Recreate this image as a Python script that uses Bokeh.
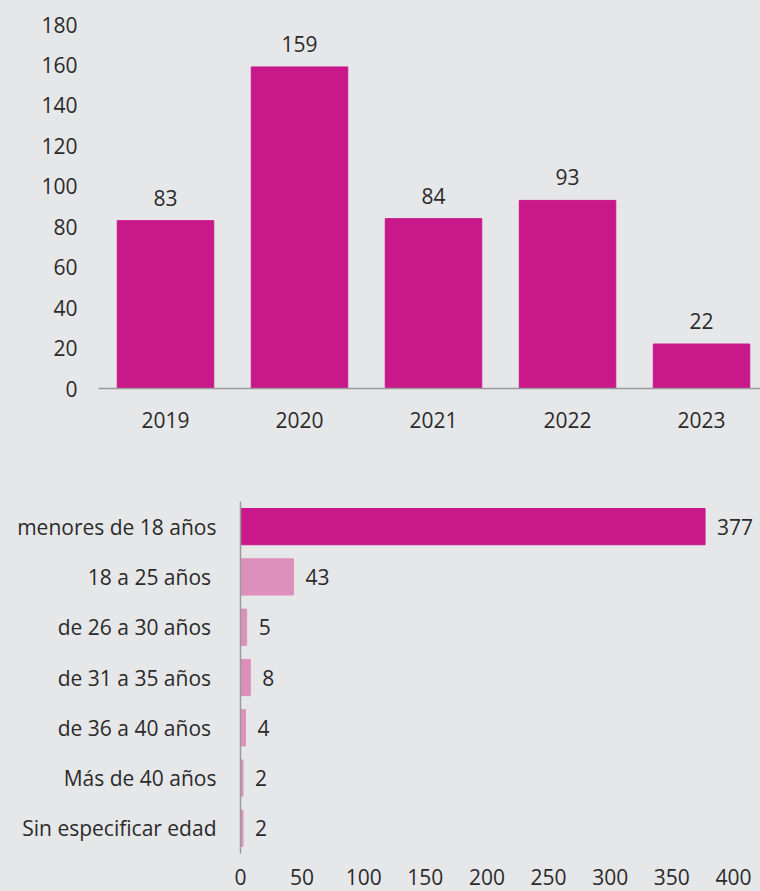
from bokeh.plotting import figure
from bokeh.models import ColumnDataSource, Range1d, FactorRange, FixedTicker, LabelSet
from bokeh.core.properties import value
from bokeh.embed import file_html
from bokeh.resources import INLINE

# ---- data ----
years = ["2019", "2020", "2021", "2022", "2023"]
year_counts = [83, 159, 84, 93, 22]
year_ticks = [0, 20, 40, 60, 80, 100, 120, 140, 160, 180]

age_groups = ["menores de 18 años", "18 a 25  años", "de 26 a 30  años",
              "de 31 a 35  años", "de 36 a 40  años", "Más de 40 años",
              "Sin especificar edad"]
age_counts = [377, 43, 5, 8, 4, 2, 2]
age_ticks = [0, 50, 100, 150, 200, 250, 300, 350, 400]

BG = "#E6E7E9"
MAG = "#C8188A"
PINK = "#DE90BC"
TXT = "#2B2B2B"
FONT = "Open Sans"
FS = "21px"

# ---- top chart ----
xpos = list(range(1, len(years) + 1))
src1 = ColumnDataSource(dict(x=xpos, y=year_counts, lab=[str(v) for v in year_counts]))
p1 = figure(width=760, height=440, output_backend="svg", toolbar_location=None,
            x_range=Range1d(0.5, 5.44), y_range=Range1d(0, 180),
            min_border_left=98, min_border_right=0, min_border_top=24, min_border_bottom=52)
p1.vbar(x="x", top="y", width=0.72, source=src1, color=MAG)
p1.add_layout(LabelSet(x="x", y="y", text="lab", source=src1, text_align="center",
                       text_baseline="alphabetic", y_offset=15, text_font=value(FONT),
                       text_font_size=value(FS), text_color=value(TXT)))
p1.xaxis.ticker = FixedTicker(ticks=xpos)
p1.xaxis.major_label_overrides = {i: y for i, y in zip(xpos, years)}
p1.yaxis.ticker = FixedTicker(ticks=year_ticks)

# ---- bottom chart ----
src2 = ColumnDataSource(dict(y=age_groups, x=age_counts, lab=[str(v) for v in age_counts],
                             c=[MAG] + [PINK] * (len(age_groups) - 1)))
p2 = figure(width=760, height=451, output_backend="svg", toolbar_location=None,
            y_range=FactorRange(factors=age_groups[::-1]), x_range=Range1d(0, 422),
            min_border_left=240, min_border_right=0, min_border_top=61, min_border_bottom=38)
p2.hbar(y="y", right="x", height=0.72, source=src2, color="c")
p2.add_layout(LabelSet(x="x", y="y", text="lab", source=src2, text_align="left",
                       text_baseline="middle", x_offset=12, text_font=value(FONT),
                       text_font_size=value(FS), text_color=value(TXT)))
p2.xaxis.ticker = FixedTicker(ticks=age_ticks)

for p in (p1, p2):
    p.background_fill_color = BG
    p.border_fill_color = BG
    p.outline_line_color = None
    p.grid.grid_line_color = None
    for ax in p.axis:
        ax.major_tick_line_color = None
        ax.minor_tick_line_color = None
        ax.major_label_text_font = FONT
        ax.major_label_text_font_size = FS
        ax.major_label_text_color = TXT

p1.yaxis.axis_line_color = None
p1.yaxis.major_label_standoff = 15
p1.xaxis.axis_line_color = "#9A9A9A"
p1.xaxis.axis_line_width = 1.5
p1.xaxis.major_label_standoff = 17

p2.xaxis.axis_line_color = None
p2.xaxis.major_label_standoff = 9
p2.yaxis.axis_line_color = "#9A9A9A"
p2.yaxis.axis_line_width = 1.5
p2.yaxis.major_label_standoff = 18

html = file_html([p1, p2], INLINE)
html = html.replace("</head>", "<style>html,body{background-color:#E6E7E9 !important;}</style></head>", 1)
open("out.html", "w").write(html)
